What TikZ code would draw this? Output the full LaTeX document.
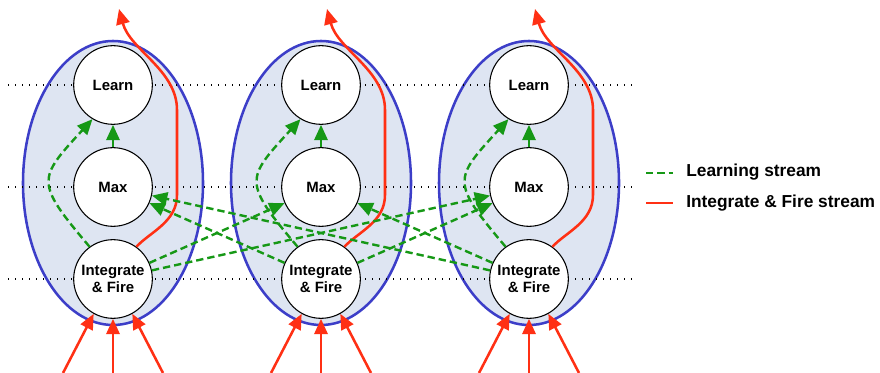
\documentclass[tikz,border=0pt]{standalone}
\usepackage{fontspec}
\setmainfont{Liberation Sans}
\usetikzlibrary{calc,positioning,arrows.meta,shapes}

\definecolor{cellblue}{RGB}{60,62,200}
\definecolor{cellfill}{RGB}{222,229,242}
\definecolor{firered}{RGB}{255,48,20}
\definecolor{learngreen}{RGB}{22,152,22}

\begin{document}
\begin{tikzpicture}[x=0.75pt,y=-0.75pt,
    cell/.style={ellipse, draw=cellblue, fill=cellfill, line width=1.9pt, minimum width=135pt, minimum height=213pt, inner sep=0pt},
    unit/.style={circle, draw=black, fill=white, line width=0.8pt, minimum size=59pt, inner sep=0pt, align=center, font=\bfseries\fontsize{11.2}{12.5}\selectfont},
    level/.style={line width=0.9pt, dash pattern=on 0.9pt off 4.35pt},
    fire/.style={draw=firered, line width=1.9pt, -{Triangle[length=11.5pt,width=10pt]}},
    learning/.style={draw=learngreen, line width=1.8pt, dash pattern=on 5.5pt off 3pt, -{Triangle[length=11.5pt,width=10pt]}},
    legend/.style={anchor=base west, inner sep=0pt, font=\bfseries\fontsize{13}{15}\selectfont}]
\useasboundingbox (0,0) rectangle (880,373);
\foreach \i/\cx in {1/113,2/321,3/529} \node[cell] (cell\i) at (\cx,183) {};
\foreach \y in {85,187,279} \draw[level] (8,\y) -- (632,\y);
\foreach \i/\cx in {1/113,2/321,3/529} {
    \node[unit] (learn\i) at (\cx,85) {Learn};
    \node[unit] (max\i) at (\cx,187) {Max};
    \node[unit] (if\i) at (\cx,279) {Integrate\\\& Fire};
    \coordinate (out\i) at (\cx+6,9);
    \coordinate (inl\i) at (\cx-50,373);
    \coordinate (inm\i) at (\cx,373);
    \coordinate (inr\i) at (\cx+50,373);
    \draw[fire] (if\i.54) .. controls (\cx+37,232) and (\cx+64,222) .. (\cx+64,195) -- (\cx+64,110) .. controls (\cx+64,70) and (\cx+17,50) .. (out\i);
    \draw[fire] (inl\i) -- (if\i.241);
    \draw[fire] (inm\i) -- (if\i.south);
    \draw[fire] (inr\i) -- (if\i.299);
    \draw[learning] (max\i) -- (learn\i);
    \draw[learning] (if\i.126) .. controls +(-55,-65) and +(-55,60) .. (learn\i.239);
}
\foreach \a/\b in {1/2,1/3,2/1,2/3,3/1,3/2} \draw[learning] (if\a) -- (max\b);
\node[legend] (leglearn) at (686,177) {Learning stream};
\node[legend] (legfire) at (686,208) {Integrate \& Fire stream};
\draw[learning,-] ($(leglearn.base west)+(-40,-4)$) -- ++(27,0);
\draw[fire,-] ($(legfire.base west)+(-40,-5)$) -- ++(27,0);
\end{tikzpicture}
\end{document}
